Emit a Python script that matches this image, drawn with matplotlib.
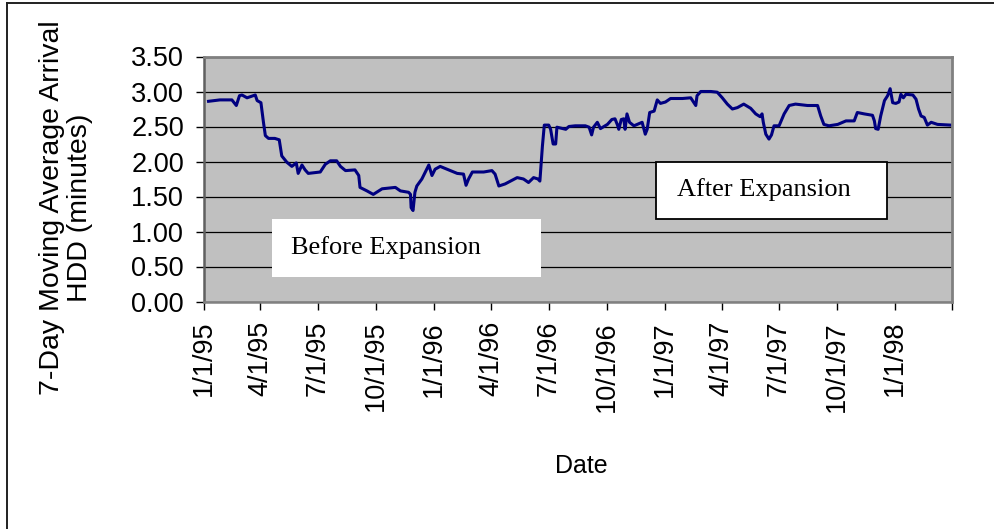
import numpy as np
import pandas as pd
import matplotlib
matplotlib.use('Agg')
import matplotlib.pyplot as plt
from matplotlib.patches import Rectangle
from matplotlib.lines import Line2D

# days since 1/1/95 and the 7-day moving average HDD (minutes)
days = [8, 26, 45, 52, 57, 61, 69, 82, 85, 91, 95, 98, 103, 113, 120, 124, 132, 140,
        147, 150, 156, 161, 166, 185, 193, 201, 211, 217, 225, 240, 246, 248, 259, 269,
        283, 304, 312, 325, 328, 329, 332, 335, 338, 346, 351, 357, 362, 367, 375, 391,
        402, 412, 416, 420, 426, 444, 457, 462, 468, 478, 497, 507, 515, 523, 530, 533,
        537, 540, 547, 550, 554, 558, 560, 574, 579, 589, 605, 611, 615, 618, 624, 629,
        640, 647, 652, 656, 658, 662, 666, 668, 671, 675, 682, 695, 700, 703, 707, 714,
        719, 724, 732, 740, 759, 772, 780, 782, 788, 804, 814, 822, 830, 838, 846, 856,
        867, 875, 882, 885, 887, 891, 896, 900, 904, 912, 920, 928, 938, 957, 973, 978,
        983, 991, 1005, 1018, 1031, 1036, 1047, 1060, 1063, 1065, 1069, 1073, 1079, 1084,
        1088, 1092, 1097, 1102, 1105, 1109, 1113, 1124, 1129, 1133, 1137, 1142, 1147,
        1153, 1163, 1184]
hdd = [2.86, 2.88, 2.88, 2.80, 2.94, 2.95, 2.91, 2.95, 2.87, 2.84, 2.56, 2.37, 2.33, 2.33,
       2.31, 2.08, 1.99, 1.93, 1.98, 1.83, 1.95, 1.88, 1.83, 1.85, 1.96, 2.01, 2.01, 1.93,
       1.87, 1.88, 1.80, 1.63, 1.58, 1.53, 1.61, 1.63, 1.58, 1.56, 1.53, 1.34, 1.30, 1.56,
       1.65, 1.75, 1.84, 1.95, 1.80, 1.89, 1.93, 1.87, 1.83, 1.82, 1.66, 1.75, 1.85, 1.85,
       1.87, 1.82, 1.65, 1.68, 1.77, 1.75, 1.70, 1.77, 1.75, 1.72, 2.22, 2.52, 2.52, 2.46,
       2.25, 2.25, 2.49, 2.46, 2.50, 2.51, 2.51, 2.49, 2.38, 2.49, 2.56, 2.47, 2.53, 2.60,
       2.61, 2.52, 2.46, 2.60, 2.61, 2.46, 2.68, 2.56, 2.51, 2.56, 2.39, 2.46, 2.70, 2.72,
       2.88, 2.83, 2.85, 2.90, 2.90, 2.91, 2.80, 2.94, 3.00, 3.00, 2.99, 2.91, 2.82, 2.75,
       2.77, 2.82, 2.76, 2.68, 2.64, 2.68, 2.56, 2.39, 2.32, 2.38, 2.51, 2.51, 2.68, 2.80,
       2.82, 2.80, 2.80, 2.65, 2.53, 2.51, 2.53, 2.58, 2.58, 2.70, 2.68, 2.66, 2.58, 2.47,
       2.46, 2.65, 2.87, 2.94, 3.04, 2.84, 2.83, 2.85, 2.96, 2.91, 2.96, 2.95, 2.89, 2.75,
       2.65, 2.63, 2.52, 2.56, 2.53, 2.52]

tick_dates = ['1995-01-01', '1995-04-01', '1995-07-01', '1995-10-01', '1996-01-01',
              '1996-04-01', '1996-07-01', '1996-10-01', '1997-01-01', '1997-04-01',
              '1997-07-01', '1997-10-01', '1998-01-01', '1998-04-01']
tick_labels = ['1/1/95', '4/1/95', '7/1/95', '10/1/95', '1/1/96', '4/1/96', '7/1/96',
               '10/1/96', '1/1/97', '4/1/97', '7/1/97', '10/1/97', '1/1/98', '']

dates = pd.Timestamp('1995-01-01') + pd.to_timedelta(days, unit='D')
ticks = pd.to_datetime(tick_dates)

plt.rcParams['font.family'] = ['Liberation Sans', 'DejaVu Sans']

W, H = 994, 529
fig = plt.figure(figsize=(W / 100, H / 100), dpi=100)
L, R, T, B = 203.5, 952, 56.5, 301.5
ax = fig.add_axes([L / W, 1 - B / H, (R - L) / W, (B - T) / H])
ax.set_facecolor('#c0c0c0')

ax.plot(dates, hdd, color='#000080', lw=2.2, solid_joinstyle='round')

ax.set_ylim(0, 3.5)
ax.set_yticks(np.arange(0, 3.51, 0.5))
ax.set_yticklabels(['%.2f' % v for v in np.arange(0, 3.51, 0.5)])
ax.set_xlim(ticks[0], ticks[-1])
ax.set_xticks(ticks)
ax.set_xticklabels(tick_labels, rotation=90)
ax.grid(axis='y', color='black', lw=0.9)
ax.set_axisbelow(True)

ax.tick_params(axis='both', labelsize=19.5, length=6, width=1, color='black', direction='out')
ax.tick_params(axis='x', pad=8)
ax.tick_params(axis='y', pad=8)

for s in ['top', 'right']:
    ax.spines[s].set_color('#808080')
    ax.spines[s].set_linewidth(2)
ax.spines['left'].set_color('#606060')
ax.spines['left'].set_linewidth(1.8)
ax.spines['bottom'].set_color('#808080')
ax.spines['bottom'].set_linewidth(1.8)

# annotation boxes
ax.add_patch(Rectangle((0.0915, 0.10), 0.3594, 0.2367, transform=ax.transAxes,
                       facecolor='white', edgecolor='none', zorder=5))
ax.text(0.1169, 0.2224, 'Before Expansion', transform=ax.transAxes, ha='left', va='center',
        fontsize=19, family='Liberation Serif', zorder=6)
ax.add_patch(Rectangle((0.6045, 0.3367), 0.3087, 0.2327, transform=ax.transAxes,
                       facecolor='white', edgecolor='black', lw=1.3, zorder=5))
ax.text(0.6326, 0.4551, 'After Expansion', transform=ax.transAxes, ha='left', va='center',
        fontsize=19, family='Liberation Serif', zorder=6)

fig.text(66 / W, 1 - 208 / H, '7-Day Moving Average Arrival\nHDD (minutes)', rotation=90,
         ha='center', va='center', multialignment='center', fontsize=20.5, linespacing=1.08)
fig.text(581 / W, 1 - 466 / H, 'Date', ha='center', va='center', fontsize=18)

# outer chart border (only left and top show in the crop)
fig.add_artist(Line2D([7 / W, 7 / W], [0, 1 - 3 / H], color='#202020', lw=1.4))
fig.add_artist(Line2D([7 / W, 1], [1 - 3 / H, 1 - 3 / H], color='#202020', lw=1.4))

fig.savefig('out.png', dpi=100)
